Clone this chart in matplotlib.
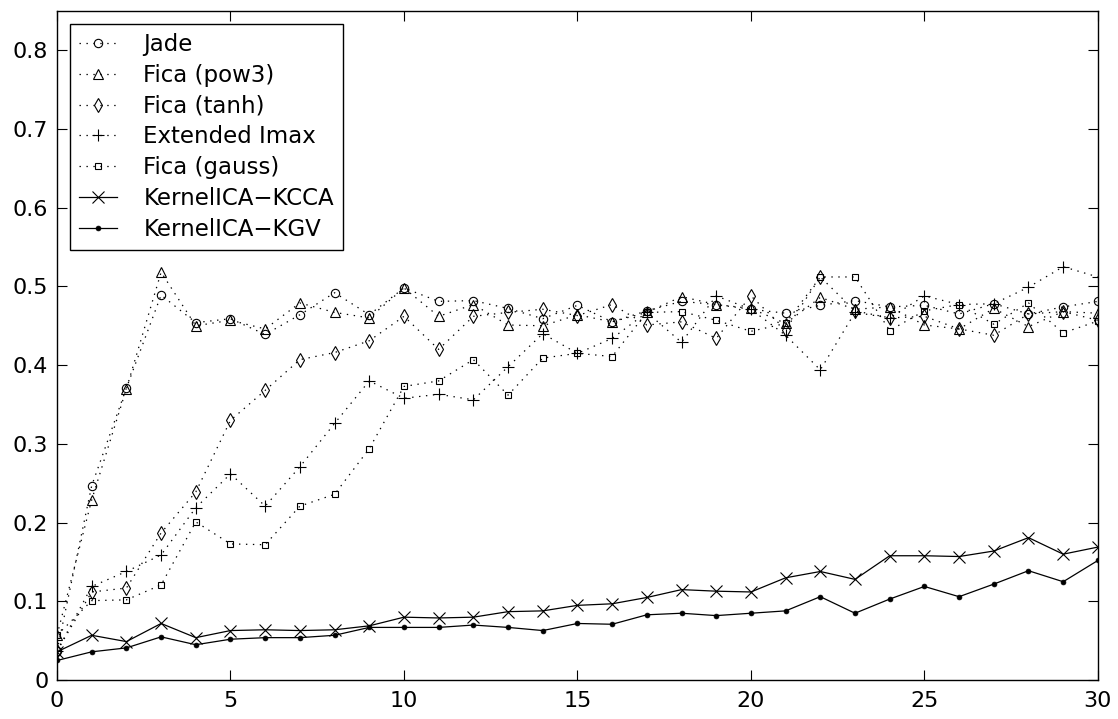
import matplotlib
matplotlib.use('Agg')
import matplotlib.pyplot as plt

# valeurs
x = list(range(31))

jade = [0.037, 0.247, 0.371, 0.489, 0.454, 0.459, 0.439, 0.464, 0.492, 0.464, 0.498,
        0.481, 0.482, 0.472, 0.459, 0.476, 0.455, 0.469, 0.481, 0.477, 0.471,
        0.466, 0.476, 0.482, 0.474, 0.476, 0.465, 0.478, 0.465, 0.474, 0.481]
pow3 = [0.057, 0.229, 0.370, 0.518, 0.450, 0.457, 0.446, 0.479, 0.467, 0.460, 0.498,
        0.462, 0.477, 0.451, 0.450, 0.464, 0.455, 0.467, 0.487, 0.477, 0.472,
        0.453, 0.486, 0.471, 0.474, 0.451, 0.446, 0.472, 0.449, 0.468, 0.466]
tanh = [0.037, 0.112, 0.117, 0.187, 0.239, 0.330, 0.368, 0.407, 0.416, 0.431, 0.462,
        0.420, 0.462, 0.467, 0.471, 0.463, 0.477, 0.451, 0.455, 0.434, 0.488,
        0.445, 0.512, 0.469, 0.460, 0.462, 0.446, 0.438, 0.465, 0.468, 0.457]
imax = [0.037, 0.119, 0.138, 0.159, 0.219, 0.262, 0.221, 0.271, 0.326, 0.380, 0.358,
        0.363, 0.356, 0.398, 0.440, 0.415, 0.434, 0.467, 0.429, 0.488, 0.471,
        0.438, 0.394, 0.467, 0.460, 0.488, 0.477, 0.478, 0.499, 0.525, 0.512]
gauss = [0.057, 0.101, 0.102, 0.121, 0.201, 0.173, 0.172, 0.221, 0.236, 0.294, 0.373,
         0.380, 0.407, 0.362, 0.409, 0.415, 0.411, 0.467, 0.468, 0.457, 0.443,
         0.453, 0.512, 0.512, 0.444, 0.469, 0.477, 0.452, 0.479, 0.441, 0.456]
kcca = [0.036, 0.057, 0.049, 0.072, 0.054, 0.063, 0.064, 0.063, 0.064, 0.069, 0.080,
        0.079, 0.080, 0.087, 0.088, 0.095, 0.097, 0.105, 0.115, 0.113, 0.112,
        0.130, 0.138, 0.128, 0.158, 0.158, 0.157, 0.164, 0.181, 0.160, 0.169]
kgv = [0.025, 0.036, 0.041, 0.055, 0.045, 0.052, 0.054, 0.054, 0.057, 0.067, 0.067,
       0.067, 0.070, 0.067, 0.063, 0.072, 0.071, 0.083, 0.085, 0.082, 0.085,
       0.088, 0.106, 0.085, 0.103, 0.119, 0.106, 0.122, 0.139, 0.125, 0.152]

xticks = [0, 5, 10, 15, 20, 25, 30]
yticks = [0, 0.1, 0.2, 0.3, 0.4, 0.5, 0.6, 0.7, 0.8]
ylabels = ['0', '0.1', '0.2', '0.3', '0.4', '0.5', '0.6', '0.7', '0.8']

plt.rcParams['font.family'] = ['DejaVu Sans']
plt.rcParams['font.size'] = 16
plt.rcParams['lines.scale_dashes'] = False

fig = plt.figure(figsize=(11.18, 7.19), dpi=100)
ax = fig.add_axes([0.051, 0.054, 0.931, 0.931])

dot = (0, (1, 4))
ax.plot(x, jade, color='k', ls=dot, lw=0.9, marker='o', ms=6, mfc='none', mew=0.8, label='Jade')
ax.plot(x, pow3, color='k', ls=dot, lw=0.9, marker='^', ms=6.5, mfc='none', mew=0.8, label='Fica (pow3)')
ax.plot(x, tanh, color='k', ls=dot, lw=0.9, marker='d', ms=7.5, mfc='none', mew=0.8, label='Fica (tanh)')
ax.plot(x, imax, color='k', ls=dot, lw=0.9, marker='+', ms=8.5, mew=0.8, label='Extended Imax')
ax.plot(x, gauss, color='k', ls=dot, lw=0.9, marker='s', ms=5, mfc='none', mew=0.8, label='Fica (gauss)')
ax.plot(x, kcca, color='k', ls='-', lw=0.9, marker='x', ms=9, mew=0.8, label='KernelICA\u2212KCCA')
ax.plot(x, kgv, color='k', ls='-', lw=0.9, marker='o', ms=3.5, mfc='k', mew=0.5, label='KernelICA\u2212KGV')

ax.set_xlim(0, 30)
ax.set_ylim(0, 0.85)
ax.set_xticks(xticks)
ax.set_yticks(yticks)
ax.set_yticklabels(ylabels)
ax.tick_params(direction='in', length=7, width=0.8, top=True, right=True)
ax.tick_params(axis='x', pad=7.5)
ax.tick_params(axis='y', pad=6.3)
for s in ax.spines.values():
    s.set_linewidth(1.0)

leg = ax.legend(loc='upper left', bbox_to_anchor=(0.0125, 0.9806), borderaxespad=0,
                fancybox=False, edgecolor='k', framealpha=1, fontsize=16.5,
                handlelength=1.65, handletextpad=1.15, borderpad=0.4, labelspacing=0.34)
leg.get_frame().set_linewidth(1.0)

plt.savefig('out.png', dpi=100)
